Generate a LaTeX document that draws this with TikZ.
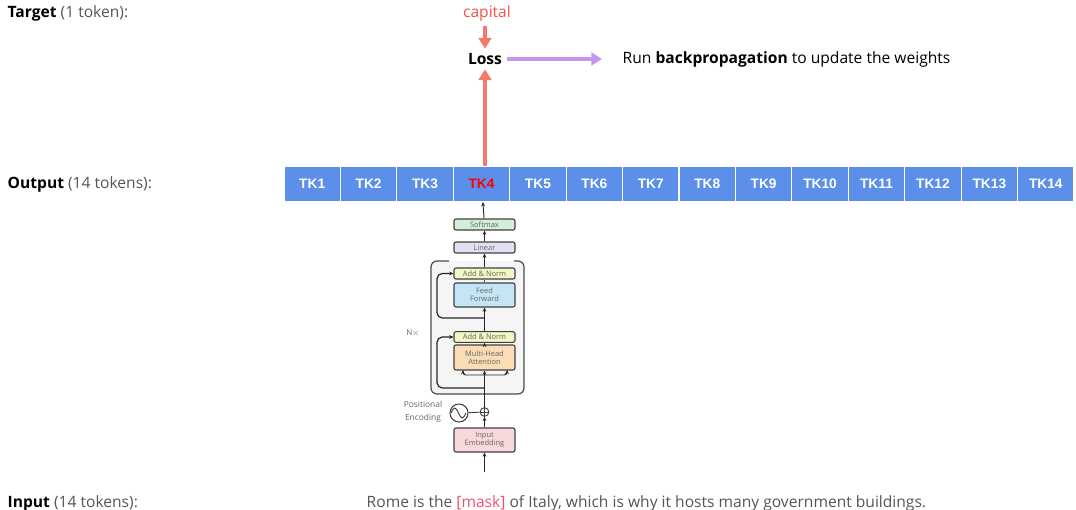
\documentclass[tikz,border=0pt]{standalone}
\usepackage{fontspec}
\setmainfont{Open Sans}
\newfontfamily\tkfont{Liberation Sans}
\usetikzlibrary{arrows.meta, positioning}
\definecolor{tokblue}{HTML}{5B8FEA}
\definecolor{lossred}{HTML}{F27B69}
\definecolor{capred}{HTML}{F2504B}
\definecolor{bppurple}{HTML}{C595F2}
\definecolor{labgray}{HTML}{555555}
\definecolor{maskpink}{HTML}{F0506E}
\definecolor{smgreen}{HTML}{D3EDD9}
\definecolor{lingray}{HTML}{E0E0F2}
\definecolor{anyellow}{HTML}{F2F5C4}
\definecolor{ffblue}{HTML}{C4E5F5}
\definecolor{mhaorange}{HTML}{FADCB6}
\definecolor{embpink}{HTML}{F9D8DC}
\tikzset{
  toklabel/.style={anchor=west, font=\fontsize{11.7}{13}\selectfont},
  tok/.style={fill=tokblue, draw=white, line width=0.8pt, minimum width=42.3pt, minimum height=26.25pt, inner sep=0pt, font=\tkfont\bfseries\fontsize{10.3}{11}\selectfont},
  tblock/.style={draw=black!75, line width=0.8pt, rounded corners=1.5pt, minimum width=45.75pt, inner sep=0pt, align=center, text=black!60, font=\fontsize{5.6}{6}\selectfont},
  tarrow/.style={-{Stealth[length=3.2pt, width=2.8pt]}, line width=0.7pt, black!85},
  fatarrow/.style={-{Triangle[length=8pt, width=9.5pt]}, line width=2.4pt}
}
\begin{document}
\begin{tikzpicture}[x=0.75pt, y=-0.75pt]
\useasboundingbox (0,0) rectangle (1076,510);
% left labels
\node[toklabel] (target) at (3,13) {\textbf{Target} \textcolor{labgray}{(1 token):}};
\node[toklabel] (output) at (3,184) {\textbf{Output} \textcolor{labgray}{(14 tokens):}};
\node[toklabel] (input) at (3,503) {\textbf{Input} \textcolor{labgray}{(14 tokens):}};
% output tokens
\foreach \i in {1,...,14} {
  \ifnum\i=4 \def\tkcol{red}\else\def\tkcol{white}\fi
  \node[tok, text=\tkcol] (tk\i) at ({284+56.43*(\i-0.5)},184) {TK\i};
}
% loss
\node[font=\fontsize{11.7}{13}\selectfont, text=capred] (capital) at (487,13) {capital};
\node[font=\bfseries\fontsize{11.7}{13}\selectfont] (loss) at (485,59) {Loss};
\node[anchor=west, font=\fontsize{11.7}{13}\selectfont] (backprop) at (618,59) {Run \textbf{backpropagation} to update the weights};
\draw[fatarrow, lossred] (capital.south -| loss) -- (loss.north);
\draw[fatarrow, lossred] (tk4.north -| loss) -- (loss.south);
\draw[fatarrow, bppurple, shorten >=12pt] (loss) -- (backprop);
% transformer stack
\fill[black!4, rounded corners=4.5pt] (431,261) rectangle (524,394);
\draw[black!70, line width=0.9pt, rounded corners=4.5pt] (449,261) -- (431,261) -- (431,394) -- (524,394) -- (524,261) -- (514,261);
\node[tblock, fill=smgreen, minimum height=8.25pt] (softmax) at (484.5,224.5) {Softmax};
\node[tblock, fill=lingray, minimum height=8.25pt] (linear) at (484.5,247.5) {Linear};
\node[tblock, fill=anyellow, minimum height=8.25pt] (addnorm2) at (484.5,273.5) {Add \& Norm};
\node[tblock, fill=ffblue, minimum height=18pt] (ffwd) at (484.5,295) {Feed\\Forward};
\node[tblock, fill=anyellow, minimum height=8pt] (addnorm1) at (484.5,337) {Add \& Norm};
\node[tblock, fill=mhaorange, minimum height=18.75pt] (mha) at (484.5,357.5) {Multi-Head\\Attention};
\node[tblock, fill=embpink, minimum height=18pt] (embed) at (484.5,440) {Input\\Embedding};
\node[draw=black!75, line width=0.7pt, circle, minimum size=6.5pt, inner sep=0pt] (plus) at (484.5,412) {};
\draw[black!75, line width=0.5pt] (plus.north) -- (plus.south) (plus.west) -- (plus.east);
\node[draw=black!75, line width=0.8pt, circle, minimum size=13.5pt, inner sep=0pt] (sine) at (459,413) {};
\draw[black!75, line width=0.7pt] (sine.west) ++(1.5,0) sin ++(3.75,-5) cos ++(3.75,5) sin ++(3.75,5) cos ++(3.75,-5);
\node[text=black!60, font=\fontsize{6}{7}\selectfont] (nx) at (413,333) {N\kern-0.3pt$\times$};
\node[text=black!60, font=\fontsize{6.3}{9.5}\selectfont, align=center] (posenc) at (423,411.5) {Positional\\Encoding};
\coordinate (inbot) at (484.5,472);
\coordinate (split) at (484.5,375);
\coordinate (attl) at (463,370);
\coordinate (attr) at (507,370);
\coordinate (res1) at (484.5,388);
\coordinate (res1l) at (437,337);
\coordinate (res2) at (484.5,318);
\coordinate (res2l) at (437,273.5);
% main path
\draw[tarrow] (inbot) -- (embed);
\draw[tarrow] (embed) -- (plus);
\draw[black!75, line width=0.7pt] (sine) -- (plus);
\draw[tarrow] (plus) -- (mha);
\draw[tarrow, rounded corners=2pt] (split) -| (attl);
\draw[tarrow, rounded corners=2pt] (split) -| (attr);
\draw[tarrow] (mha) -- (addnorm1);
\draw[tarrow] (addnorm1) -- (ffwd);
\draw[black!75, line width=0.7pt] (ffwd) -- (addnorm2);
\draw[tarrow] (addnorm2) -- (linear);
\draw[tarrow] (linear) -- (softmax);
\draw[tarrow] (softmax) -- (tk4);
% residuals
\draw[tarrow, line width=0.9pt, rounded corners=4pt] (res1) -| (res1l) -- (addnorm1);
\draw[tarrow, line width=0.9pt, rounded corners=4pt] (res2) -| (res2l) -- (addnorm2);
% input sentence
\node[anchor=west, text=labgray, font=\fontsize{11.7}{13}\selectfont] (sentence) at (362,503) {Rome is the \textcolor{maskpink}{[mask]} of Italy, which is why it hosts many government buildings.};
\end{tikzpicture}
\end{document}
